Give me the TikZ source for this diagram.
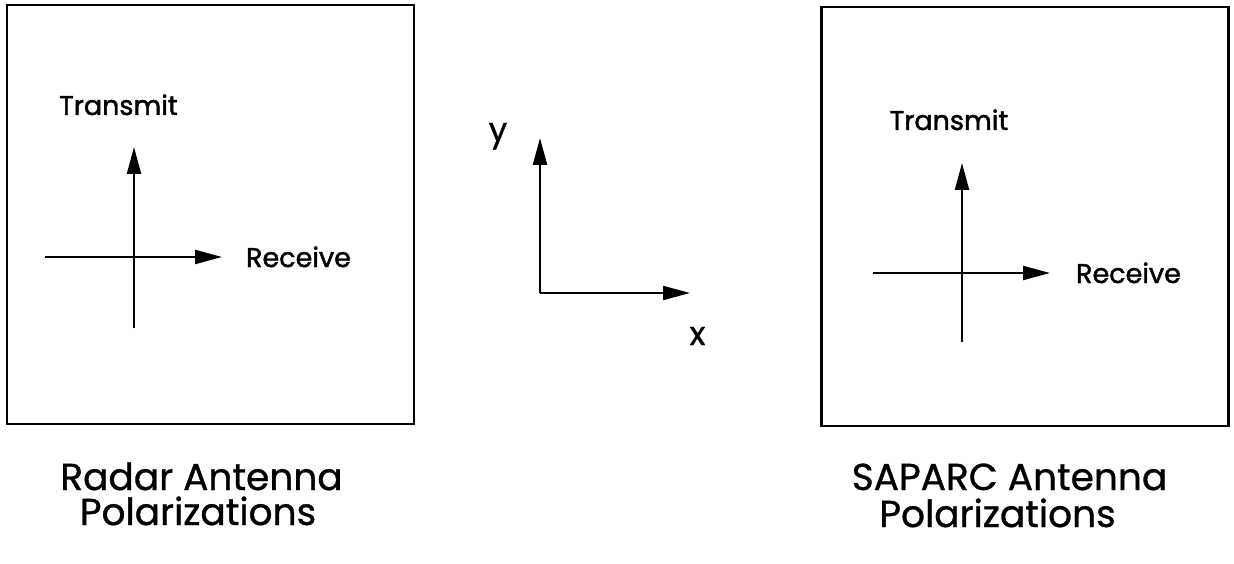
\documentclass[tikz,border=0pt]{standalone}
\usepackage{fontspec}
\setmainfont{Poppins}[FakeBold=1.6,AutoFakeBold=1.6]
\newfontfamily\captionfont{Poppins}[FakeBold=0.9]
\usetikzlibrary{arrows.meta}
\tikzset{
  frame/.style={draw, line width=2.2pt, minimum width=407pt, minimum height=419pt, inner sep=0pt},
  axis/.style={line width=2.2pt, -{Triangle[length=27pt,width=14pt]}},
  lbl/.style={inner sep=0pt, anchor=base, font=\fontsize{27}{30}\selectfont\bfseries},
  axislbl/.style={inner sep=0pt, anchor=base, font=\captionfont\fontsize{33}{36}\selectfont},
  caption/.style={inner sep=0pt, anchor=base, font=\captionfont\fontsize{37.5}{40}\selectfont},
}
\begin{document}
\begin{tikzpicture}[x=1pt,y=-1pt]
\useasboundingbox (0,0) rectangle (1234,564);

% left panel: radar antenna
\node[frame] (lbox) at (210.5,214.5) {};
\coordinate (lvtop) at (134,147);
\coordinate (lvbot) at (134,328);
\coordinate (lhl) at (45,257);
\coordinate (lhr) at (222,257);
\draw[axis] (lvbot) -- (lvtop);
\draw[axis] (lhl) -- (lhr);
\node[lbl] (ltx) at (118.5,115) {Transmit};
\node[lbl] (lrx) at (298.5,267) {Receive};
\node[caption] (lc1) at (201.5,490) {Radar Antenna};
\node[caption] (lc2) at (198,525) {Polarizations};

% centre: reference axes
\coordinate (o) at (540,293);
\coordinate (ytip) at (540,138);
\coordinate (xtip) at (690,293);
\draw[axis] (o) -- (ytip);
\draw[axis] (o) -- (xtip);
\node[axislbl] (ylab) at (498,141) {y};
\node[axislbl] (xlab) at (697.5,345) {x};

% right panel: SAPARC antenna
\node[frame] (rbox) at (1025,216.5) {};
\coordinate (rvtop) at (962,163);
\coordinate (rvbot) at (962,342);
\coordinate (rhl) at (873,273);
\coordinate (rhr) at (1050,273);
\draw[axis] (rvbot) -- (rvtop);
\draw[axis] (rhl) -- (rhr);
\node[lbl] (rtx) at (949,130) {Transmit};
\node[lbl] (rrx) at (1128.5,283) {Receive};
\node[caption] (rc1) at (1009.5,490) {SAPARC Antenna};
\node[caption] (rc2) at (997.5,527) {Polarizations};
\end{tikzpicture}
\end{document}
